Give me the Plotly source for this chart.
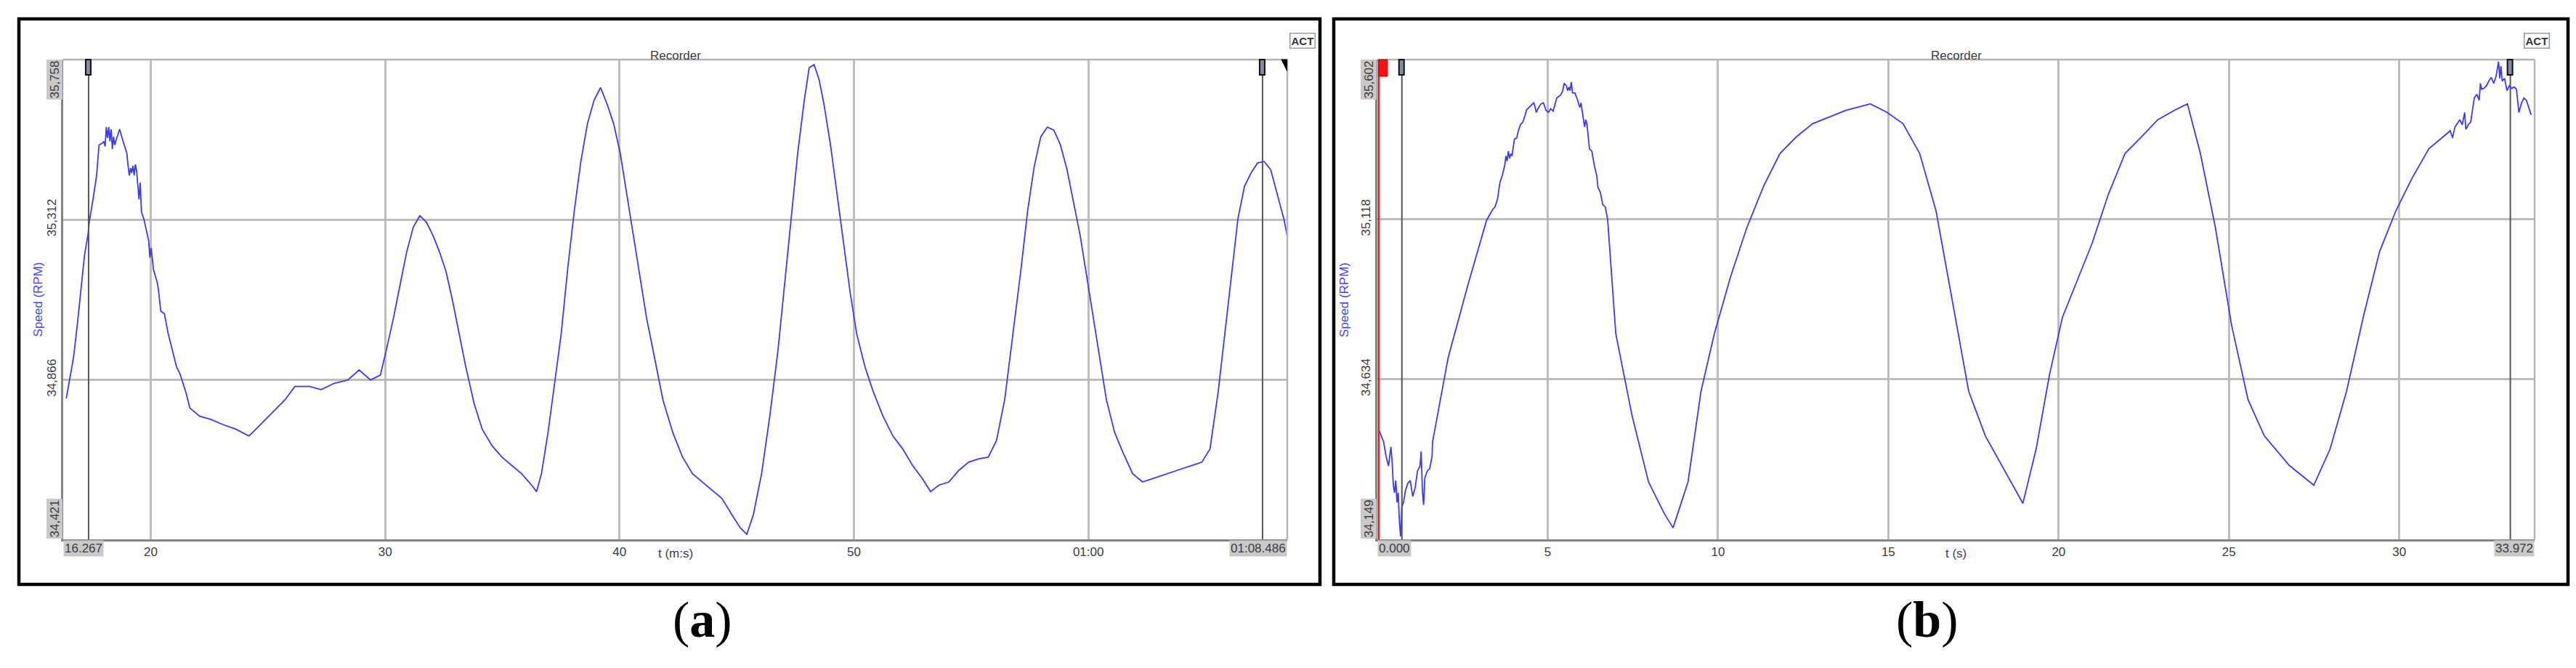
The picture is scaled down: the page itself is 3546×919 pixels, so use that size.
import plotly.graph_objects as go

W, H = 3546, 919

# ---------------- data ----------------
# panel (a): time in seconds (axis shown as m:s), speed in RPM
t_a = [16.40, 16.555, 16.71, 16.865, 17.02, 17.175, 17.33, 17.383, 17.538, 17.692, 17.795, 17.950, 18.002,
       18.055, 18.105, 18.157, 18.210, 18.260, 18.312, 18.365, 18.415, 18.467, 18.520, 18.570, 18.675,
       18.777, 18.879, 18.985, 19.034, 19.087, 19.140, 19.189, 19.242, 19.295, 19.344, 19.397, 19.450,
       19.499, 19.552, 19.604, 19.707, 19.914, 19.964, 20.017, 20.12, 20.274, 20.326, 20.429, 20.584,
       20.739, 20.946, 21.10, 21.256, 21.41, 21.513,
       21.67, 22.09, 22.58, 23.07, 23.63,
       24.19, 24.68, 25.17, 25.73, 26.15, 26.78, 27.27, 27.83, 28.40, 28.89, 29.38, 29.80, 30.08, 30.36,
       30.64, 30.92, 31.20, 31.48, 31.76, 32.04, 32.32, 32.60, 32.88, 33.16, 33.44, 33.79, 34.14, 34.56,
       34.98, 35.40, 35.82, 36.25, 36.46, 36.67, 36.95, 37.23, 37.51, 37.79, 38.07, 38.35, 38.63, 38.91,
       39.19, 39.47, 39.75, 40.03, 40.31, 40.59, 40.87, 41.15, 41.50, 41.85, 42.27, 42.69, 43.11, 43.53,
       43.95, 44.37, 44.79, 45.15, 45.43, 45.71, 46.06, 46.41, 46.76, 47.04, 47.32, 47.60, 47.88, 48.09,
       48.30, 48.51, 48.72, 49.00, 49.28, 49.56, 49.84, 50.12, 50.47, 50.82, 51.24, 51.66, 52.08, 52.50,
       52.92, 53.27, 53.62, 54.05, 54.47, 54.89, 55.31, 55.73, 56.08, 56.43, 56.78, 57.13, 57.41, 57.69,
       57.97, 58.25, 58.53, 58.81, 59.09, 59.37, 59.65, 59.93, 60.21, 60.49, 60.77, 61.12, 61.47, 61.89,
       62.31, 62.73, 63.16, 63.58, 64.00, 64.42, 64.84, 65.19, 65.54, 65.82, 66.10, 66.38, 66.66, 66.94,
       67.22, 67.50, 67.78, 68.06, 68.34, 68.48]
v_a = [34.814, 34.869, 34.929, 35.017, 35.111, 35.212, 35.273, 35.307, 35.368, 35.435, 35.520, 35.526, 35.530,
       35.516, 35.570, 35.540, 35.570, 35.530, 35.564, 35.509, 35.543, 35.520, 35.533, 35.543, 35.564,
       35.540, 35.520, 35.496, 35.462, 35.435, 35.456, 35.442, 35.462, 35.435, 35.466, 35.449, 35.408,
       35.368, 35.415, 35.334, 35.314, 35.253, 35.206, 35.233, 35.172, 35.138, 35.118, 35.057, 35.050,
       34.996, 34.942, 34.902, 34.881, 34.848, 34.828,
       34.787, 34.764, 34.755, 34.741, 34.728,
       34.709, 34.741, 34.774, 34.810, 34.847, 34.847, 34.838, 34.856, 34.865, 34.893, 34.865, 34.879, 34.957, 35.039,
       35.131, 35.222, 35.291, 35.323, 35.305, 35.268, 35.222, 35.167, 35.085, 34.993, 34.902, 34.801, 34.728, 34.682,
       34.650, 34.627, 34.604, 34.572, 34.554, 34.604, 34.719, 34.856, 34.993, 35.176, 35.337, 35.474, 35.579, 35.644,
       35.680, 35.634, 35.579, 35.497, 35.383, 35.268, 35.154, 35.039, 34.925, 34.810, 34.719, 34.650, 34.604, 34.581,
       34.558, 34.535, 34.490, 34.453, 34.435, 34.490, 34.604, 34.764, 34.948, 35.131, 35.314, 35.497, 35.644, 35.735,
       35.744, 35.703, 35.634, 35.520, 35.383, 35.245, 35.108, 34.993, 34.902, 34.833, 34.764, 34.709, 34.673, 34.627,
       34.590, 34.554, 34.572, 34.581, 34.613, 34.636, 34.645, 34.650, 34.696, 34.810, 34.993, 35.176, 35.337, 35.460,
       35.543, 35.570, 35.561, 35.520, 35.451, 35.360, 35.268, 35.154, 35.039, 34.925, 34.810, 34.719, 34.664, 34.604,
       34.581, 34.590, 34.600, 34.609, 34.618, 34.627, 34.636, 34.673, 34.833, 34.993, 35.154, 35.314, 35.405, 35.442,
       35.470, 35.474, 35.451, 35.383, 35.314, 35.268]

# panel (b): time in seconds, speed in RPM
t_b = [0.04, 0.185, 0.256, 0.327, 0.398, 0.433, 0.469, 0.505, 0.540, 0.576, 0.612, 0.647, 0.682, 0.719,
       0.768, 0.825, 0.896, 0.966, 1.038, 1.109, 1.179, 1.252, 1.286, 1.322, 1.358, 1.392, 1.465, 1.535,
       1.606, 1.62, 2.08, 2.66,
       3.205, 3.384, 3.454, 3.525, 3.597, 3.667, 3.738, 3.774, 3.810, 3.845, 3.881, 3.917, 3.952, 3.987,
       4.023, 4.094, 4.130, 4.200, 4.271, 4.343, 4.377, 4.450, 4.520, 4.590, 4.627, 4.663, 4.733, 4.804,
       4.876, 4.947, 5.017, 5.090, 5.160, 5.230, 5.267, 5.373, 5.444, 5.480, 5.550, 5.586, 5.623, 5.657,
       5.693, 5.729, 5.800, 5.870, 5.942, 5.977, 6.013, 6.083, 6.119, 6.155, 6.226, 6.296, 6.369, 6.439,
       6.476, 6.546, 6.616, 6.689, 6.759,
       7.00, 7.48, 7.96, 8.44, 8.68, 9.12, 9.50, 9.89, 10.37, 10.85, 11.34, 11.82, 12.30, 12.78, 13.26, 13.75, 14.47,
       14.95, 15.43, 15.92, 16.40, 16.88, 17.36, 17.85, 18.33, 18.95, 19.34, 19.73, 20.11, 20.50, 20.98,
       21.46, 21.95, 22.43, 22.91, 23.39, 23.78, 24.16, 24.60, 25.08, 25.56, 26.04, 26.77, 27.49, 27.97,
       28.45, 28.94, 29.42, 29.90, 30.38, 30.87,
       31.456, 31.493, 31.563, 31.635, 31.706, 31.776, 31.848, 31.919, 31.955, 32.026, 32.096, 32.168,
       32.203, 32.275, 32.345, 32.381, 32.416, 32.488, 32.559, 32.629, 32.701, 32.771, 32.842, 32.914,
       32.949, 32.985, 33.02, 33.09, 33.16, 33.23, 33.30, 33.37, 33.44, 33.51, 33.59, 33.66, 33.73, 33.80,
       33.87, 33.92]
v_b = [34.482, 34.444, 34.400, 34.371, 34.429, 34.385, 34.312, 34.290, 34.327, 34.261, 34.290, 34.202, 34.158, 34.246,
       34.261, 34.297, 34.319, 34.327, 34.279, 34.305, 34.356, 34.371, 34.415, 34.297, 34.253, 34.334, 34.356, 34.363,
       34.400, 34.444, 34.700, 34.920,
       35.115, 35.148, 35.156, 35.178, 35.229, 35.251, 35.281, 35.310, 35.295, 35.325, 35.303, 35.317, 35.310, 35.339,
       35.361, 35.365, 35.383, 35.405, 35.413, 35.435, 35.449, 35.457, 35.464, 35.471, 35.460, 35.442, 35.457, 35.468,
       35.471, 35.449, 35.442, 35.453, 35.446, 35.471, 35.486, 35.494, 35.508, 35.530, 35.523, 35.508, 35.519, 35.508,
       35.534, 35.501, 35.501, 35.482, 35.457, 35.471, 35.442, 35.398, 35.420, 35.405, 35.332, 35.325, 35.281, 35.251,
       35.215, 35.200, 35.163, 35.156, 35.119,
       34.771, 34.522, 34.323, 34.224, 34.184, 34.323, 34.597, 34.771, 34.945, 35.094, 35.219, 35.318, 35.368, 35.408,
       35.428, 35.448, 35.468, 35.443, 35.408, 35.318, 35.144, 34.871, 34.597, 34.462, 34.373, 34.258, 34.423, 34.647,
       34.821, 34.920, 35.045, 35.194, 35.318, 35.368, 35.420, 35.448, 35.468, 35.318, 35.094, 34.796, 34.572, 34.462,
       34.373, 34.313, 34.423, 34.597, 34.821, 35.020, 35.144, 35.244,
       35.332, 35.383, 35.387, 35.365, 35.398, 35.409, 35.420, 35.405, 35.442, 35.391, 35.405, 35.413,
       35.457, 35.486, 35.497, 35.479, 35.530, 35.512, 35.515, 35.523, 35.537, 35.548, 35.530, 35.552,
       35.596, 35.545, 35.582, 35.537, 35.545, 35.508, 35.523, 35.515, 35.519, 35.512, 35.442, 35.471, 35.486, 35.479,
       35.457, 35.435]

# axis settings / labels
range_a_x = [16.267, 68.486]
range_a_y = [34.421, 35.758]
ticks_a_x = [20, 30, 40, 50, 60]
ticklabels_a_x = ["20", "30", "40", "50", "01:00"]
ticks_a_y = [35.312, 34.866]
ticklabels_a_y = ["35,312", "34,866"]
end_labels_a_x = ["16.267", "01:08.486"]
end_labels_a_y = ["35,758", "34,421"]
cursors_a = [17.35, 67.43]

range_b_x = [0.0, 33.972]
range_b_y = [34.149, 35.602]
ticks_b_x = [5, 10, 15, 20, 25, 30]
ticklabels_b_x = ["5", "10", "15", "20", "25", "30"]
ticks_b_y = [35.118, 34.634]
ticklabels_b_y = ["35,118", "34,634"]
end_labels_b_x = ["0.000", "33.972"]
end_labels_b_y = ["35,602", "34,149"]
cursors_b = [0.72, 33.26]
red_cursor_b = 0.04

# ---------------- figure ----------------
FONT = "Liberation Sans, Arial, sans-serif"
LINE_BLUE = "#3a3aff"
GRID = "#bdbdbd"
AXIS_DARK = "#858585"
TXT = "#3c3c3c"


def px(x):
    return x / W


def py(y):
    return 1 - y / H


fig = go.Figure()
fig.add_trace(go.Scatter(x=t_a, y=v_a, mode="lines", line=dict(color=LINE_BLUE, width=1.8),
                         xaxis="x", yaxis="y", showlegend=False, hoverinfo="skip"))
fig.add_trace(go.Scatter(x=t_b, y=v_b, mode="lines", line=dict(color=LINE_BLUE, width=1.8),
                         xaxis="x2", yaxis="y2", showlegend=False, hoverinfo="skip"))

dom_a_x = [px(79), px(1764)]
dom_b_x = [px(1888), px(3481)]
dom_y = [py(734), py(74)]

xcommon = dict(showgrid=True, gridcolor=GRID, gridwidth=2.5, zeroline=False, showline=True,
               linecolor=AXIS_DARK, linewidth=2.5, ticks="", tickfont=dict(family=FONT, size=17, color=TXT),
               fixedrange=True)
ycommon = dict(showgrid=True, gridcolor=GRID, gridwidth=2.5, zeroline=False, showline=True,
               linecolor=AXIS_DARK, linewidth=2.5, ticks="", tickangle=-90,
               tickfont=dict(family=FONT, size=17, color=TXT), fixedrange=True)

fig.update_layout(
    width=W, height=H, margin=dict(l=0, r=0, t=0, b=0),
    paper_bgcolor="white", plot_bgcolor="white",
    xaxis=dict(domain=dom_a_x, range=range_a_x, tickvals=ticks_a_x, ticktext=ticklabels_a_x,
               anchor="y", **xcommon),
    yaxis=dict(domain=dom_y, range=range_a_y, tickvals=ticks_a_y, ticktext=ticklabels_a_y,
               anchor="x", **ycommon),
    xaxis2=dict(domain=dom_b_x, range=range_b_x, tickvals=ticks_b_x, ticktext=ticklabels_b_x,
                anchor="y2", **xcommon),
    yaxis2=dict(domain=dom_y, range=range_b_y, tickvals=ticks_b_y, ticktext=ticklabels_b_y,
                anchor="x2", **ycommon),
)

shapes = []
annotations = []

# outer frames
for x0, x1 in [(18, 1809), (1828, 3527)]:
    shapes.append(dict(type="rect", xref="paper", yref="paper", x0=px(x0), x1=px(x1), y0=py(796), y1=py(18),
                       line=dict(color="black", width=4.5), layer="above"))

for xr, yr, xrange_, yrange_, cur, endx, endy, xtitle, cap_x, cap in [
    ("x", "y", range_a_x, range_a_y, cursors_a, end_labels_a_x, end_labels_a_y, "t (m:s)", 916, "a"),
    ("x2", "y2", range_b_x, range_b_y, cursors_b, end_labels_b_x, end_labels_b_y, "t (s)", 2690, "b"),
]:
    # light top / right border
    shapes.append(dict(type="line", xref=xr + " domain", yref=yr + " domain", x0=0, x1=1, y0=1, y1=1,
                       line=dict(color="#b5b5b5", width=2.5)))
    shapes.append(dict(type="line", xref=xr + " domain", yref=yr + " domain", x0=1, x1=1, y0=0, y1=1,
                       line=dict(color="#b5b5b5", width=2.5)))
    # cursors
    for c in cur:
        shapes.append(dict(type="line", xref=xr, yref=yr + " domain", x0=c, x1=c, y0=0, y1=1,
                           line=dict(color="#555555", width=2)))
        shapes.append(dict(type="rect", xref=xr, yref=yr + " domain", xsizemode="pixel", xanchor=c,
                           x0=-4, x1=3, ysizemode="pixel", yanchor=1, y0=0, y1=-21,
                           fillcolor="#7d8fa8", line=dict(color="#111111", width=2)))
    # y-axis title
    annotations.append(dict(text="Speed (RPM)", xref="paper", yref=yr + " domain",
                            x=px(32) if xr == "x" else px(1842), y=0.5, showarrow=False, textangle=-90,
                            font=dict(family=FONT, size=17, color="#4646ff")))
    # end labels with grey boxes
    annotations.append(dict(text=endy[0], xref=xr + " domain", yref=yr, x=0, y=yrange_[1],
                            xanchor="right", yanchor="top", xshift=-1, showarrow=False, textangle=-90,
                            bgcolor="#c9c9c9", font=dict(family=FONT, size=17, color=TXT)))
    annotations.append(dict(text=endy[1], xref=xr + " domain", yref=yr, x=0, y=yrange_[0],
                            xanchor="right", yanchor="bottom", xshift=-1, showarrow=False, textangle=-90,
                            bgcolor="#c9c9c9", font=dict(family=FONT, size=17, color=TXT)))
    annotations.append(dict(text=endx[0], xref=xr, yref=yr + " domain", x=xrange_[0], y=0,
                            xanchor="left", yanchor="top", yshift=-1, showarrow=False,
                            bgcolor="#c9c9c9", font=dict(family=FONT, size=17, color=TXT)))
    annotations.append(dict(text=endx[1], xref=xr, yref=yr + " domain", x=xrange_[1], y=0,
                            xanchor="right", yanchor="top", yshift=-1, showarrow=False,
                            bgcolor="#c9c9c9", font=dict(family=FONT, size=17, color=TXT)))
    # x-axis title
    annotations.append(dict(text=xtitle, xref=xr + " domain", yref="paper", x=0.5, y=py(765),
                            showarrow=False, font=dict(family=FONT, size=17, color="#3c3c50")))
    # Recorder title
    annotations.append(dict(text="Recorder", xref=xr + " domain", yref="paper", x=0.5, y=py(57),
                            showarrow=False, font=dict(family=FONT, size=17, color=TXT)))
    # caption
    annotations.append(dict(text="(<b>%s</b>)" % cap, xref="paper", yref="paper", x=px(cap_x), y=py(885),
                            showarrow=False, font=dict(family="Liberation Serif, Times New Roman, serif",
                                                       size=70, color="black")))

# ACT boxes
for cx in [1785, 3502]:
    annotations.append(dict(text="<b>ACT</b>", xref="paper", yref="paper", x=px(cx), y=py(37),
                            showarrow=False, bordercolor="#9a9a9a", borderwidth=1.5, borderpad=1,
                            font=dict(family=FONT, size=15, color="#333344")))

# right-edge triangle marker in (a)
shapes.append(dict(type="path", xref="x", yref="y domain", xsizemode="pixel", xanchor=range_a_x[1],
                   ysizemode="pixel", yanchor=1, path="M -8 0 L 0 0 L 0 -16 Z",
                   fillcolor="black", line=dict(color="black", width=1)))
# red cursor in (b)
shapes.append(dict(type="line", xref="x2", yref="y2 domain", x0=red_cursor_b, x1=red_cursor_b, y0=0, y1=1,
                   line=dict(color="#e02020", width=2.5)))
shapes.append(dict(type="rect", xref="x2", yref="y2 domain", xsizemode="pixel", xanchor=red_cursor_b,
                   x0=0, x1=12, ysizemode="pixel", yanchor=1, y0=0, y1=-23,
                   fillcolor="#ff1010", line=dict(color="#b00000", width=1)))

fig.update_layout(shapes=shapes, annotations=annotations)
fig.write_html("out.html", config={"displayModeBar": False})
